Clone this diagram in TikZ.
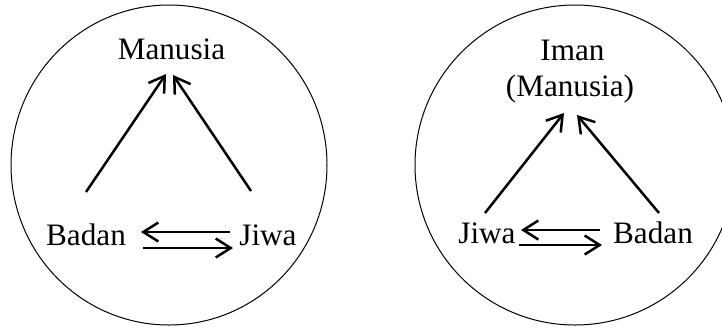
\documentclass[tikz,border=0pt]{standalone}
\usepackage{fontspec}
\setmainfont{Liberation Serif}
\usetikzlibrary{arrows.meta,calc}

\tikzset{
  ring/.style={draw=black, line width=0.5pt},
  word/.style={anchor=base, inner sep=0pt, font=\fontsize{15.6}{18}\selectfont},
  link/.style={draw=black, line width=1.25pt,
    -{Straight Barb[length=7.5pt,width=9.5pt]}},
}

\begin{document}
\begin{tikzpicture}[x=0.5pt,y=-0.5pt]
  \useasboundingbox (0,0) rectangle (722,328);

  % left circle
  \draw[ring] (169,165) ellipse [x radius=158, y radius=160];
  \node[word] (Lman) at (171.5,59) {Manusia};
  \node[word] (Lbad) at (86,245) {Badan};
  \node[word] (Ljiw) at (268,245) {Jiwa};

  \draw[link] ($(Lbad.base)+(0,-53)$) -- ($(Lman.base)+(-5.5,15)$);
  \draw[link] ($(Ljiw.base)+(-17,-54)$) -- ($(Lman.base)+(1.5,16)$);
  \draw[link] ($(Ljiw.base)+(-38,-13)$) -- ($(Lbad.base)+(55,-13)$);
  \draw[link] ($(Lbad.base)+(57,3)$) -- ($(Ljiw.base)+(-35,3)$);

  % right circle
  \draw[ring] (575,165) circle [radius=160];
  \node[word] (Riman) at (572.5,60) {Iman};
  \node[word] (Rman) at (570,96) {(Manusia)};
  \node[word] (Rjiw) at (487,243) {Jiwa};
  \node[word] (Rbad) at (653,243) {Badan};

  \draw[link] ($(Rjiw.base)+(-2,-30)$) -- ($(Rman.base)+(-6,17)$);
  \draw[link] ($(Rbad.base)+(6,-30)$) -- ($(Rman.base)+(7,19)$);
  \draw[link] ($(Rbad.base)+(-53,-13)$) -- ($(Rjiw.base)+(34,-13)$);
  \draw[link] ($(Rjiw.base)+(32,2)$) -- ($(Rbad.base)+(-51,2)$);
\end{tikzpicture}
\end{document}
